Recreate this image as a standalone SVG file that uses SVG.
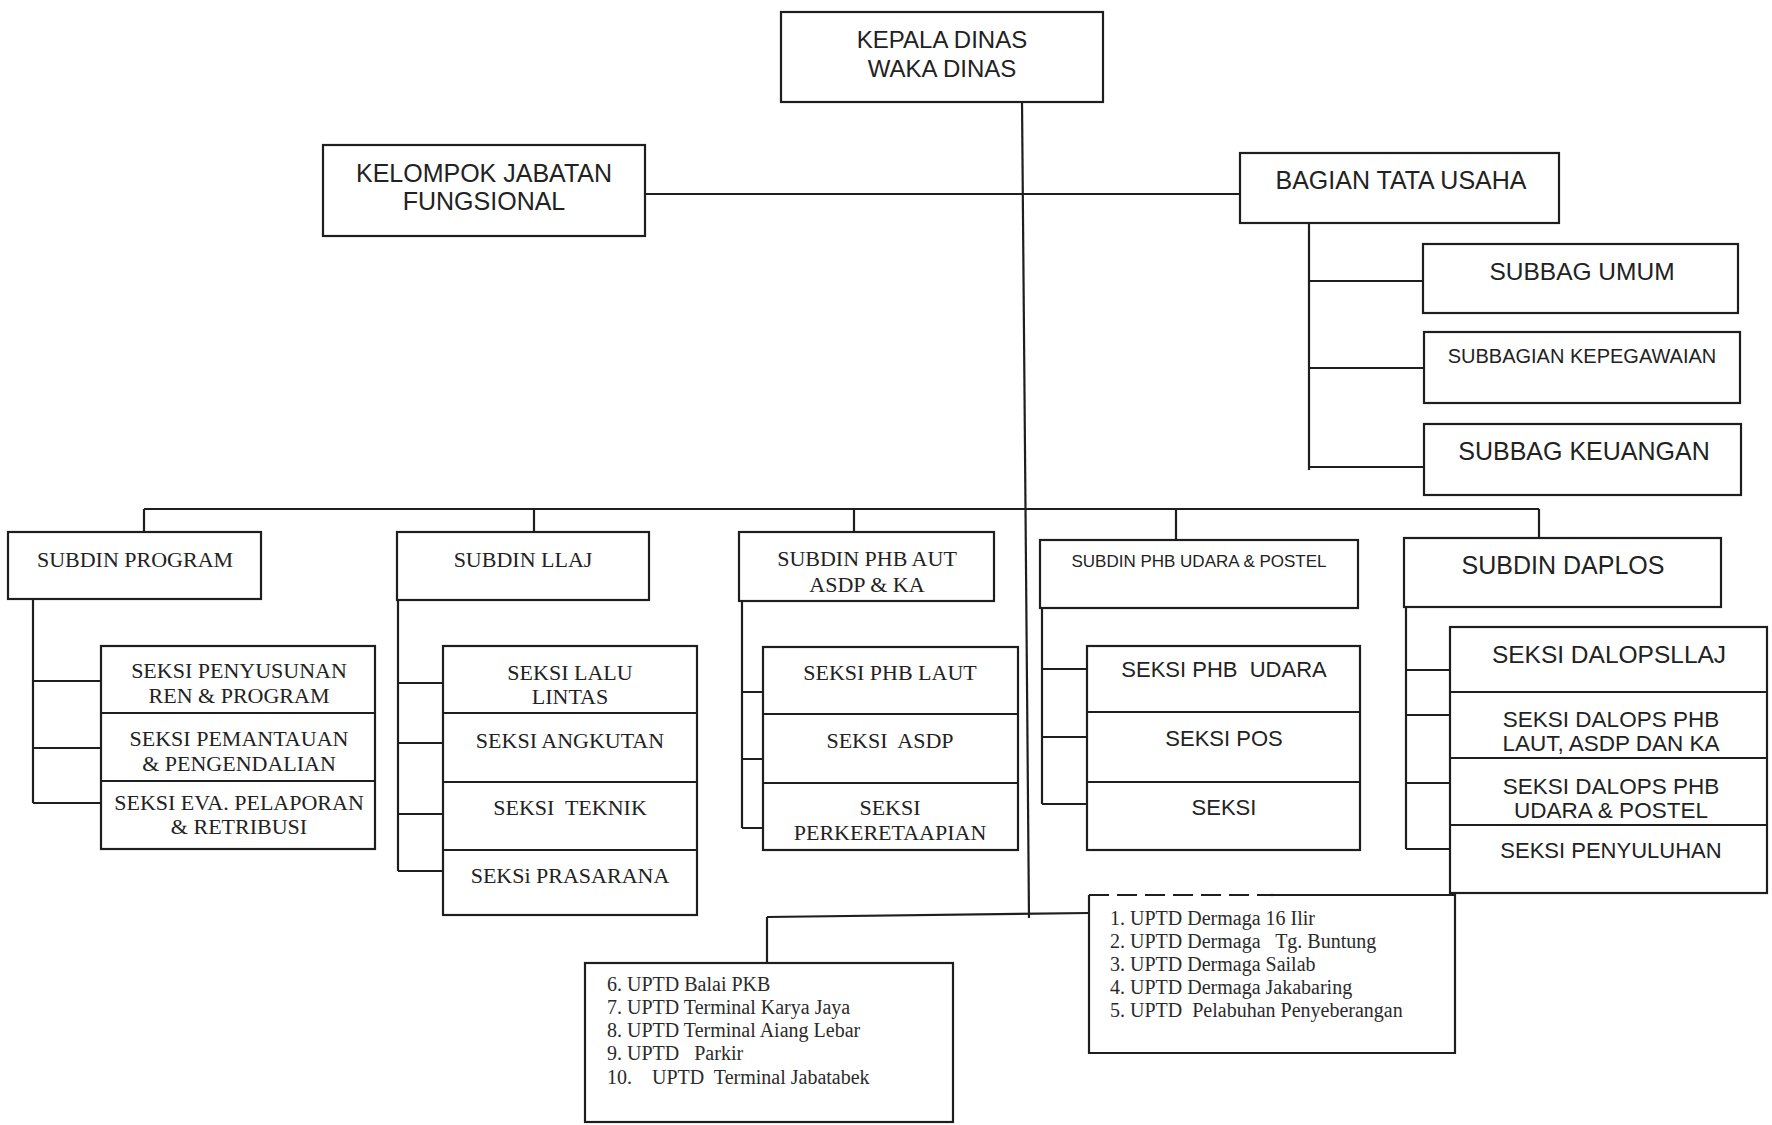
<svg xmlns="http://www.w3.org/2000/svg" width="1772" height="1125" viewBox="0 0 1772 1125">
<style>
.box{fill:#fff;stroke:#1e1e1e;stroke-width:2.2}
.ln{fill:none;stroke:#1e1e1e;stroke-width:2.2}
.s{font-family:"Liberation Sans",Arial,sans-serif;fill:#222;text-anchor:middle}
.t{font-family:"Liberation Serif","Times New Roman",serif;fill:#222;text-anchor:middle;font-size:22px}
.u{font-family:"Liberation Serif","Times New Roman",serif;fill:#2a2a2a;font-size:20px}
</style>
<rect width="1772" height="1125" fill="#fff"/>
<g id="connectors">
<path class="ln" d="M1022,100 L1029,918"/>
<path class="ln" d="M645,194 L1240,194"/>
<path class="ln" d="M1309,223 L1309,470 M1309,281 L1423,281 M1309,368 L1424,368 M1309,467 L1424,467"/>
<path class="ln" d="M144,509 L1539,509 M144,509 L144,532 M534,509 L534,532 M854,509 L854,532 M1176,509 L1176,540 M1539,509 L1539,538"/>
<path class="ln" d="M33,599 L33,803 M33,681 L101,681 M33,748 L101,748 M33,803 L101,803"/>
<path class="ln" d="M398,600 L398,871 M398,683 L443,683 M398,743 L443,743 M398,814 L443,814 M398,871 L443,871"/>
<path class="ln" d="M742,601 L742,828 M742,692 L763,692 M742,759 L763,759 M742,828 L763,828"/>
<path class="ln" d="M1042,608 L1042,804 M1042,669 L1087,669 M1042,737 L1087,737 M1042,804 L1087,804"/>
<path class="ln" d="M1406,607 L1406,849 M1406,670 L1450,670 M1406,715 L1477,715 M1406,783 L1450,783 M1406,849 L1450,849"/>
<path class="ln" d="M767,917 L1089,913 M767,917 L767,963"/>
</g>
<g id="kepala-dinas">
<rect class="box" x="781" y="12" width="322" height="90"/>
<text class="s" x="942" y="48" font-size="24">KEPALA DINAS</text>
<text class="s" x="942" y="77" font-size="24">WAKA DINAS</text>
</g>
<g id="kelompok-jabatan">
<rect class="box" x="323" y="145" width="322" height="91"/>
<text class="s" x="484" y="182" font-size="25">KELOMPOK JABATAN</text>
<text class="s" x="484" y="210" font-size="25">FUNGSIONAL</text>
</g>
<g id="bagian-tata-usaha">
<rect class="box" x="1240" y="153" width="319" height="70"/>
<text class="s" x="1401" y="189" font-size="25">BAGIAN TATA USAHA</text>
</g>
<g id="subbag-umum">
<rect class="box" x="1423" y="244" width="315" height="69"/>
<text class="s" x="1582" y="280" font-size="24.5">SUBBAG UMUM</text>
</g>
<g id="subbagian-kepegawaian">
<rect class="box" x="1424" y="332" width="316" height="71"/>
<text class="s" x="1582" y="363" font-size="20">SUBBAGIAN KEPEGAWAIAN</text>
</g>
<g id="subbag-keuangan">
<rect class="box" x="1424" y="424" width="317" height="71"/>
<text class="s" x="1584" y="460" font-size="25">SUBBAG KEUANGAN</text>
</g>
<g id="subdin-program">
<rect class="box" x="8" y="532" width="253" height="67"/>
<text class="t" x="135" y="567">SUBDIN PROGRAM</text>
</g>
<g id="seksi-program">
<rect class="box" x="101" y="646" width="274" height="203"/>
<path class="ln" d="M101,713 L375,713 M101,781 L375,781"/>
<text class="t" x="239" y="678">SEKSI PENYUSUNAN</text>
<text class="t" x="239" y="703">REN &amp; PROGRAM</text>
<text class="t" x="239" y="746">SEKSI PEMANTAUAN</text>
<text class="t" x="239" y="771">&amp; PENGENDALIAN</text>
<text class="t" x="239" y="810" font-size="20" fill="#4a4a4a">SEKSI EVA. PELAPORAN</text>
<text class="t" x="239" y="834" font-size="20" fill="#4a4a4a">&amp; RETRIBUSI</text>
</g>
<g id="subdin-llaj">
<rect class="box" x="397" y="532" width="252" height="68"/>
<text class="t" x="523" y="567">SUBDIN LLAJ</text>
</g>
<g id="seksi-llaj">
<rect class="box" x="443" y="646" width="254" height="269"/>
<path class="ln" d="M443,713 L697,713 M443,782 L697,782 M443,850 L697,850"/>
<text class="t" x="570" y="680">SEKSI LALU</text>
<text class="t" x="570" y="704">LINTAS</text>
<text class="t" x="570" y="748">SEKSI ANGKUTAN</text>
<text class="t" x="570" y="815" xml:space="preserve">SEKSI  TEKNIK</text>
<text class="t" x="570" y="883">SEKSi PRASARANA</text>
</g>
<g id="subdin-phb-aut">
<rect class="box" x="739" y="532" width="255" height="69"/>
<text class="t" x="867" y="566">SUBDIN PHB AUT</text>
<text class="t" x="867" y="592">ASDP &amp; KA</text>
</g>
<g id="seksi-phb-aut">
<rect class="box" x="763" y="647" width="255" height="203"/>
<path class="ln" d="M763,714 L1018,714 M763,783 L1018,783"/>
<text class="t" x="890" y="680">SEKSI PHB LAUT</text>
<text class="t" x="890" y="748" xml:space="preserve">SEKSI  ASDP</text>
<text class="t" x="890" y="815">SEKSI</text>
<text class="t" x="890" y="840">PERKERETAAPIAN</text>
</g>
<g id="subdin-phb-udara">
<rect class="box" x="1040" y="540" width="318" height="68"/>
<text class="s" x="1199" y="567" font-size="17">SUBDIN PHB UDARA &amp; POSTEL</text>
</g>
<g id="seksi-phb-udara">
<rect class="box" x="1087" y="646" width="273" height="204"/>
<path class="ln" d="M1087,712 L1360,712 M1087,782 L1360,782"/>
<text class="s" x="1224" y="677" font-size="22" xml:space="preserve">SEKSI PHB  UDARA</text>
<text class="s" x="1224" y="746" font-size="22">SEKSI POS</text>
<text class="s" x="1224" y="815" font-size="22">SEKSI</text>
</g>
<g id="subdin-daplos">
<rect class="box" x="1404" y="538" width="317" height="69"/>
<text class="s" x="1563" y="574" font-size="25">SUBDIN DAPLOS</text>
</g>
<g id="seksi-daplos">
<rect class="box" x="1450" y="627" width="317" height="266"/>
<path class="ln" d="M1450,692 L1767,692 M1450,758 L1767,758 M1450,825 L1767,825"/>
<text class="s" x="1609" y="663" font-size="24.5">SEKSI DALOPSLLAJ</text>
<text class="s" x="1611" y="727" font-size="22.5">SEKSI DALOPS PHB</text>
<text class="s" x="1611" y="751" font-size="22.5">LAUT, ASDP DAN KA</text>
<text class="s" x="1611" y="794" font-size="22.5">SEKSI DALOPS PHB</text>
<text class="s" x="1611" y="818" font-size="22.5">UDARA &amp; POSTEL</text>
<text class="s" x="1611" y="858" font-size="22">SEKSI PENYULUHAN</text>
</g>
<g id="uptd-1-5">
<path class="ln" d="M1273,895 L1455,895 L1455,1053 L1089,1053 L1089,895"/>
<path class="ln" d="M1089,895 L1273,895" stroke-dasharray="20,8"/>
<text class="u" x="1110" y="925">1. UPTD Dermaga 16 Ilir</text>
<text class="u" x="1110" y="948" xml:space="preserve">2. UPTD Dermaga   Tg. Buntung</text>
<text class="u" x="1110" y="971">3. UPTD Dermaga Sailab</text>
<text class="u" x="1110" y="994">4. UPTD Dermaga Jakabaring</text>
<text class="u" x="1110" y="1017" xml:space="preserve">5. UPTD  Pelabuhan Penyeberangan</text>
</g>
<g id="uptd-6-10">
<rect class="box" x="585" y="963" width="368" height="159"/>
<text class="u" x="607" y="991">6. UPTD Balai PKB</text>
<text class="u" x="607" y="1014">7. UPTD Terminal Karya Jaya</text>
<text class="u" x="607" y="1037">8. UPTD Terminal Aiang Lebar</text>
<text class="u" x="607" y="1060" xml:space="preserve">9. UPTD   Parkir</text>
<text class="u" x="607" y="1084" xml:space="preserve">10.    UPTD  Terminal Jabatabek</text>
</g>
</svg>
